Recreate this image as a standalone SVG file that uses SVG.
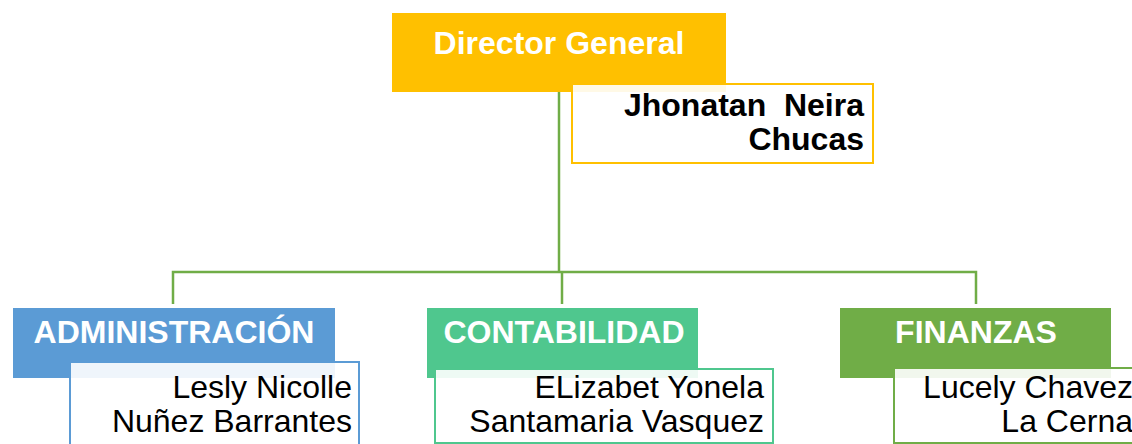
<svg xmlns="http://www.w3.org/2000/svg" width="1132" height="444" viewBox="0 0 1132 444">
<style>
.head{font-family:"Liberation Sans",Arial,sans-serif;font-size:32px;font-weight:bold;fill:#fff;text-anchor:middle}
.name{font-family:"Liberation Sans",Arial,sans-serif;font-size:32px;fill:#000;text-anchor:end;white-space:pre}
.bold{font-weight:bold}
.card{fill:#fff;fill-opacity:0.9;stroke-width:2}
.conn{fill:none;stroke:#70AD47;stroke-width:2.5}
</style>
<rect width="1132" height="444" fill="#fff"/>
<g id="connectors">
<path class="conn" d="M559 92 V272"/>
<path class="conn" d="M173 304 V272 H976 V304"/>
<path class="conn" d="M562 272 V304"/>
</g>
<g id="director">
<rect x="392" y="13" width="334" height="79" fill="#FFC000"/>
<text class="head" x="559" y="54">Director General</text>
<rect class="card" x="572" y="84" width="301" height="79" stroke="#FFC000"/>
<text class="name bold" x="864" y="116">Jhonatan  Neira</text>
<text class="name bold" x="864" y="150">Chucas</text>
</g>
<g id="administracion">
<rect x="13" y="308" width="322" height="70" fill="#5B9BD5"/>
<text class="head" x="174" y="343">ADMINISTRACIÓN</text>
<rect class="card" x="70" y="362" width="289" height="100" stroke="#5B9BD5"/>
<text class="name" x="352" y="398">Lesly Nicolle</text>
<text class="name" x="352" y="432">Nuñez Barrantes</text>
</g>
<g id="contabilidad">
<rect x="427" y="308" width="271" height="70" fill="#4FC78E"/>
<text class="head" x="564" y="343">CONTABILIDAD</text>
<rect class="card" x="435" y="369" width="338" height="74" stroke="#4FC78E"/>
<text class="name" x="764" y="398">ELizabet Yonela</text>
<text class="name" x="764" y="432">Santamaria Vasquez</text>
</g>
<g id="finanzas">
<rect x="840" y="308" width="271" height="70" fill="#70AD47"/>
<text class="head" x="976" y="343">FINANZAS</text>
<rect class="card" x="894" y="368" width="260" height="75" stroke="#70AD47"/>
<text class="name" x="1133" y="398">Lucely Chavez</text>
<text class="name" x="1133" y="432">La Cerna</text>
</g>
</svg>
